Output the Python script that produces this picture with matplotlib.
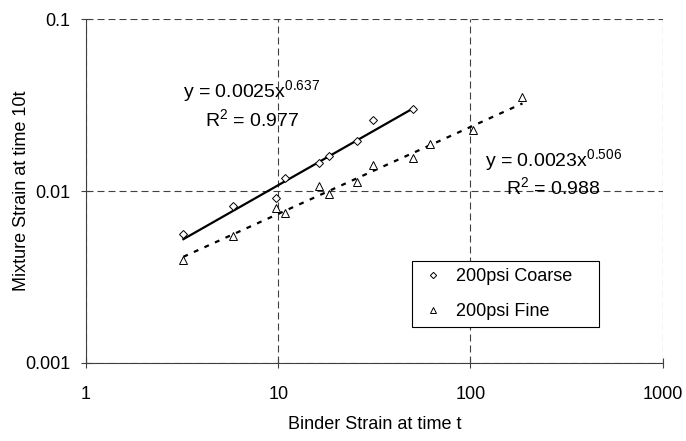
import numpy as np
import matplotlib
matplotlib.use('Agg')
import matplotlib.pyplot as plt
from matplotlib.lines import Line2D
from matplotlib.ticker import FixedLocator, FixedFormatter, NullLocator

plt.rcParams['font.family'] = ['Liberation Sans', 'DejaVu Sans']
plt.rcParams['mathtext.fontset'] = 'custom'
plt.rcParams['mathtext.rm'] = 'Liberation Sans'

# binder strain at t vs mixture strain at 10t
binder_coarse = [3.21, 5.83, 9.69, 10.83, 16.3, 18.3, 25.8, 31.0, 50.4]
mix_coarse = [0.00562, 0.00818, 0.00914, 0.01195, 0.0146, 0.0160, 0.01955, 0.0259, 0.0299]

binder_fine = [3.21, 5.83, 9.69, 10.83, 16.3, 18.3, 25.8, 31.0, 50.4, 61.5, 103, 186.6]
mix_fine = [0.0040, 0.00549, 0.0080, 0.00751, 0.0107, 0.0096, 0.0113, 0.01416, 0.0157,
            0.0187, 0.0228, 0.0352]

# power trendlines y = a * x^b, with R^2
coarse_a, coarse_b, coarse_r2 = 0.0025, 0.637, 0.977
fine_a, fine_b, fine_r2 = 0.0023, 0.506, 0.988

x_ticks = [1, 10, 100, 1000]
x_labels = ['1', '10', '100', '1000']
y_ticks = [0.001, 0.01, 0.1]
y_labels = ['0.001', '0.01', '0.1']

fs = 13
fs_eq = 14

fig = plt.figure(figsize=(6.86, 4.41), dpi=100)
ax = fig.add_axes([0.1254, 0.177, 0.8405, 0.779])

ax.set_xscale('log')
ax.set_yscale('log')
ax.set_xlim(1, 1000)
ax.set_ylim(0.001, 0.1)

# trendlines
xc = np.geomspace(min(binder_coarse), max(binder_coarse), 50)
ax.plot(xc, coarse_a * xc ** coarse_b, color='black', lw=1.6, zorder=3)
xf = np.geomspace(min(binder_fine), max(binder_fine), 50)
ax.plot(xf, fine_a * xf ** fine_b, color='black', lw=1.6, ls=(0, (2.2, 3.0)), zorder=3)

ax.plot(binder_coarse, mix_coarse, ls='none', marker='D', ms=3.6, mfc='white',
        mec='black', mew=0.7, zorder=4)
ax.plot(binder_fine, mix_fine, ls='none', marker='^', ms=5.2, mfc='white',
        mec='black', mew=0.7, zorder=4)

ax.xaxis.set_major_locator(FixedLocator(x_ticks))
ax.xaxis.set_major_formatter(FixedFormatter(x_labels))
ax.yaxis.set_major_locator(FixedLocator(y_ticks))
ax.yaxis.set_major_formatter(FixedFormatter(y_labels))
ax.xaxis.set_minor_locator(NullLocator())
ax.yaxis.set_minor_locator(NullLocator())

ax.grid(True, which='major', color='#404040', lw=0.8, ls=(0, (6.3, 3.6)), zorder=1)
ax.set_axisbelow(True)

for side in ['top', 'right']:
    ax.spines[side].set_visible(False)
for side in ['left', 'bottom']:
    ax.spines[side].set_color('#404040')
    ax.spines[side].set_linewidth(0.8)

ax.tick_params(axis='both', direction='inout', length=7, width=0.8, color='#404040',
               labelsize=fs, labelcolor='black')
ax.tick_params(axis='x', pad=13)
ax.tick_params(axis='y', pad=8)

ax.text(0.168, 0.775, r'y = 0.0025$\mathregular{x^{%.3f}}$' % coarse_b,
        transform=ax.transAxes, fontsize=fs_eq, va='baseline', ha='left')
ax.text(0.206, 0.690, r'$\mathregular{R^2}$ = %.3f' % coarse_r2,
        transform=ax.transAxes, fontsize=fs_eq, va='baseline', ha='left')
ax.text(0.692, 0.574, r'y = 0.0023$\mathregular{x^{%.3f}}$' % fine_b,
        transform=ax.transAxes, fontsize=fs_eq, va='baseline', ha='left')
ax.text(0.728, 0.492, r'$\mathregular{R^2}$ = %.3f' % fine_r2,
        transform=ax.transAxes, fontsize=fs_eq, va='baseline', ha='left')

handles = [
    Line2D([], [], ls='none', marker='D', ms=3.2, mfc='white', mec='black', mew=0.7),
    Line2D([], [], ls='none', marker='^', ms=4.5, mfc='white', mec='black', mew=0.7),
]
leg = ax.legend(handles, ['200psi Coarse', '200psi Fine'], loc='upper left',
                bbox_to_anchor=(0.565, 0.108, 0.325, 0.189), mode='expand',
                borderaxespad=0, fontsize=fs, frameon=True, fancybox=False,
                edgecolor='black', framealpha=1, borderpad=0.4, handlelength=1.5,
                handletextpad=0.55, labelspacing=1.0)
leg.get_frame().set_linewidth(0.8)

fig.text(0.547, 0.027, 'Binder Strain at time t', fontsize=fs, ha='center', va='baseline')
fig.text(0.031, 0.567, 'Mixture Strain at time 10t', fontsize=fs, ha='center', va='center',
         rotation=90)

fig.savefig('out.png', dpi=100)
